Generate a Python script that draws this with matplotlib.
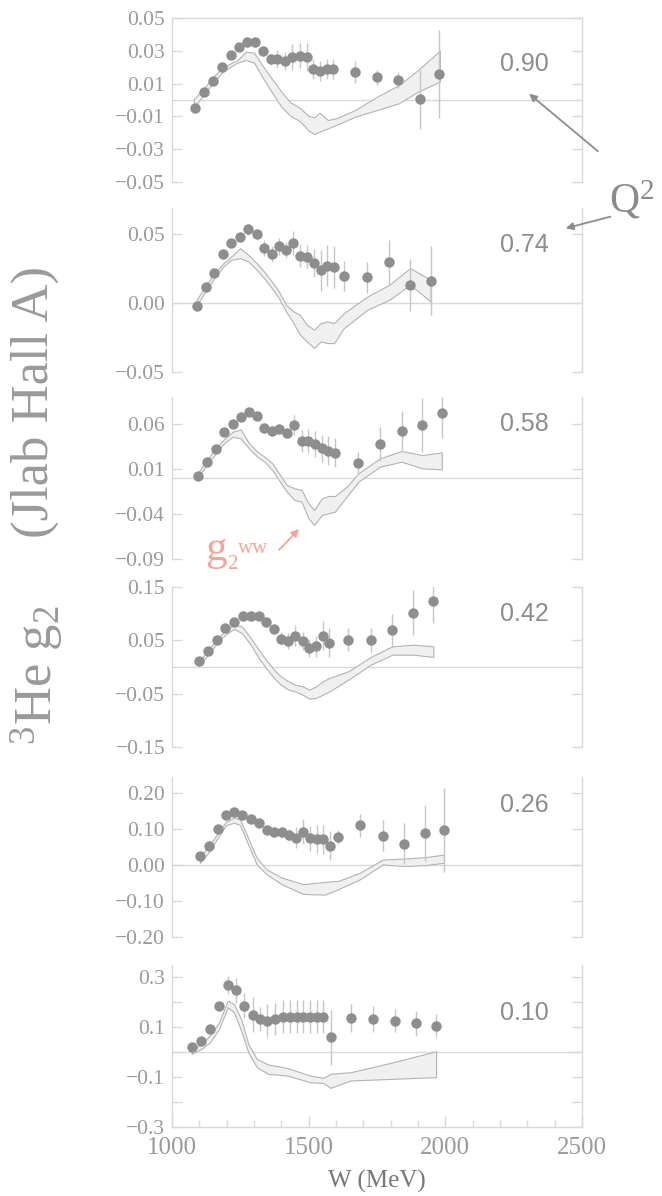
import matplotlib
matplotlib.use("Agg")
import matplotlib.pyplot as plt
from matplotlib.ticker import FixedLocator, FixedFormatter
from matplotlib.patches import FancyArrowPatch

plt.rcParams['mathtext.fontset'] = 'custom'
plt.rcParams['mathtext.rm'] = 'Liberation Serif'
plt.rcParams['mathtext.it'] = 'Liberation Serif:italic'
plt.rcParams['font.family'] = ['Liberation Serif', 'DejaVu Serif']

# ---------------- data ----------------
q2_labels = ["0.90", "0.74", "0.58", "0.42", "0.26", "0.10"]

W1 = [1084, 1117, 1151, 1182, 1215, 1245, 1276, 1304, 1334, 1361, 1385, 1413, 1440, 1468, 1493, 1517, 1541, 1566, 1590, 1670, 1749, 1828, 1907, 1978]
g1 = [-0.0047, 0.0047, 0.0118, 0.0199, 0.0274, 0.0321, 0.0356, 0.0352, 0.0299, 0.0248, 0.0250, 0.0240, 0.0264, 0.0270, 0.0264, 0.0189, 0.0177, 0.0189, 0.0187, 0.0169, 0.0138, 0.0122, 0.0004, 0.0159]
e1 = [0.001, 0.001, 0.001, 0.0015, 0.0015, 0.002, 0.003, 0.003, 0.003, 0.0035, 0.0055, 0.0055, 0.008, 0.0075, 0.0085, 0.006, 0.006, 0.006, 0.006, 0.0066, 0.0045, 0.005, 0.018, 0.027]
bW1 = [1080, 1120, 1150, 1180, 1210, 1240, 1270, 1300, 1330, 1360, 1400, 1430, 1470, 1500, 1520, 1540, 1570, 1600, 1670, 1750, 1830, 1900, 1980]
bhi1 = [0.0006, 0.0077, 0.0142, 0.0187, 0.0220, 0.0244, 0.0295, 0.0289, 0.0213, 0.0142, 0.0051, -0.0010, -0.0051, -0.0098, -0.0106, -0.0077, -0.0122, -0.0112, -0.0061, 0.0020, 0.0091, 0.0183, 0.0301]
blo1 = [-0.0045, 0.0041, 0.0102, 0.0163, 0.0199, 0.0228, 0.0244, 0.0228, 0.0142, 0.0061, -0.0041, -0.0092, -0.0132, -0.0187, -0.0207, -0.0193, -0.0173, -0.0153, -0.0102, -0.0061, -0.0020, 0.0051, 0.0112]

W2 = [1090, 1123, 1155, 1188, 1217, 1249, 1279, 1310, 1337, 1365, 1391, 1417, 1444, 1468, 1493, 1520, 1544, 1568, 1593, 1629, 1715, 1795, 1871, 1946]
g2 = [-0.0019, 0.0116, 0.0217, 0.0357, 0.0435, 0.0483, 0.0536, 0.0500, 0.0399, 0.0357, 0.0411, 0.0386, 0.0435, 0.0345, 0.0338, 0.0290, 0.0237, 0.0271, 0.0261, 0.0198, 0.0186, 0.0295, 0.0133, 0.0162]
e2 = [0.001, 0.002, 0.002, 0.002, 0.002, 0.003, 0.004, 0.004, 0.006, 0.006, 0.006, 0.006, 0.0085, 0.0085, 0.0085, 0.010, 0.015, 0.015, 0.015, 0.011, 0.0115, 0.016, 0.019, 0.025]
bW2 = [1090, 1123, 1155, 1188, 1217, 1249, 1279, 1310, 1337, 1365, 1391, 1417, 1444, 1468, 1493, 1520, 1544, 1568, 1593, 1629, 1715, 1795, 1871, 1946]
bhi2 = [0.0024, 0.0126, 0.0217, 0.0290, 0.0338, 0.0398, 0.0350, 0.0290, 0.0229, 0.0157, 0.0085, -0.0012, -0.0060, -0.0085, -0.0157, -0.0193, -0.0145, -0.0133, -0.0145, -0.0072, 0.0048, 0.0133, 0.0254, 0.0169]
blo2 = [-0.0012, 0.0085, 0.0181, 0.0266, 0.0314, 0.0326, 0.0302, 0.0242, 0.0181, 0.0109, 0.0036, -0.0060, -0.0145, -0.0229, -0.0278, -0.0326, -0.0278, -0.0290, -0.0290, -0.0181, -0.0048, 0.0024, 0.0133, 0.0012]

W3 = [1094, 1127, 1160, 1190, 1222, 1251, 1282, 1312, 1338, 1367, 1391, 1420, 1448, 1474, 1499, 1523, 1548, 1572, 1596, 1682, 1761, 1840, 1916, 1987]
g3 = [0.0026, 0.0174, 0.0322, 0.0514, 0.0596, 0.0681, 0.0736, 0.0688, 0.0559, 0.0525, 0.0544, 0.0503, 0.0592, 0.0411, 0.0411, 0.0377, 0.0329, 0.0303, 0.0281, 0.0170, 0.0374, 0.0522, 0.0588, 0.0725]
e3 = [0.002, 0.002, 0.002, 0.002, 0.003, 0.003, 0.004, 0.004, 0.0055, 0.0055, 0.0055, 0.0055, 0.011, 0.012, 0.013, 0.014, 0.015, 0.016, 0.016, 0.012, 0.019, 0.022, 0.030, 0.028]
bW3 = [1094, 1127, 1160, 1190, 1222, 1251, 1282, 1312, 1338, 1367, 1391, 1420, 1448, 1474, 1499, 1520, 1548, 1572, 1596, 1639, 1682, 1761, 1840, 1916, 1987]
bhi3 = [0.0052, 0.0200, 0.0329, 0.0429, 0.0514, 0.0540, 0.0385, 0.0292, 0.0237, 0.0163, 0.0052, -0.0078, -0.0115, -0.0133, -0.0281, -0.0355, -0.0226, -0.0200, -0.0200, -0.0096, 0.0052, 0.0218, 0.0300, 0.0255, 0.0285]
blo3 = [0.0007, 0.0144, 0.0274, 0.0385, 0.0459, 0.0440, 0.0329, 0.0237, 0.0181, 0.0089, -0.0022, -0.0152, -0.0244, -0.0263, -0.0448, -0.0522, -0.0411, -0.0392, -0.0374, -0.0207, -0.0041, 0.0126, 0.0181, 0.0107, 0.0096]

W4 = [1099, 1132, 1163, 1195, 1227, 1259, 1288, 1317, 1344, 1373, 1398, 1426, 1450, 1478, 1502, 1527, 1551, 1576, 1645, 1727, 1806, 1883, 1956]
g4 = [0.0107, 0.0295, 0.0515, 0.0735, 0.0848, 0.0955, 0.0955, 0.0955, 0.0842, 0.0716, 0.0528, 0.0484, 0.0590, 0.0484, 0.0358, 0.0389, 0.0590, 0.0452, 0.0515, 0.0502, 0.0691, 0.1017, 0.1237]
e4 = [0.002, 0.002, 0.003, 0.003, 0.004, 0.004, 0.005, 0.006, 0.007, 0.008, 0.012, 0.015, 0.019, 0.017, 0.017, 0.020, 0.027, 0.027, 0.022, 0.023, 0.031, 0.042, 0.041]
bW4 = [1099, 1132, 1163, 1195, 1227, 1255, 1288, 1317, 1344, 1373, 1398, 1426, 1450, 1478, 1502, 1527, 1551, 1576, 1645, 1727, 1806, 1883, 1956]
bhi4 = [0.0107, 0.0313, 0.0513, 0.0688, 0.0794, 0.0763, 0.0544, 0.0325, 0.0138, -0.0050, -0.0175, -0.0269, -0.0331, -0.0363, -0.0425, -0.0363, -0.0269, -0.0206, -0.0081, 0.0188, 0.0388, 0.0419, 0.0388]
blo4 = [0.0025, 0.0231, 0.0438, 0.0606, 0.0713, 0.0638, 0.0419, 0.0169, -0.0019, -0.0206, -0.0331, -0.0425, -0.0456, -0.0519, -0.0594, -0.0581, -0.0519, -0.0456, -0.0238, 0.0044, 0.0231, 0.0231, 0.0188]

W5 = [1102, 1137, 1170, 1198, 1227, 1257, 1288, 1318, 1346, 1373, 1401, 1429, 1454, 1480, 1505, 1529, 1554, 1578, 1609, 1688, 1771, 1850, 1926, 1995]
g5 = [0.0265, 0.0539, 0.0995, 0.1406, 0.1479, 0.1406, 0.1278, 0.1160, 0.0977, 0.0913, 0.0913, 0.0840, 0.0767, 0.0931, 0.0749, 0.0730, 0.0721, 0.0539, 0.0776, 0.1114, 0.0813, 0.0593, 0.0886, 0.0977]
e5 = [0.004, 0.004, 0.005, 0.005, 0.006, 0.006, 0.008, 0.010, 0.012, 0.014, 0.015, 0.016, 0.030, 0.035, 0.035, 0.038, 0.040, 0.040, 0.020, 0.032, 0.043, 0.057, 0.078, 0.116]
bW5 = [1102, 1137, 1170, 1198, 1227, 1249, 1279, 1310, 1346, 1401, 1480, 1560, 1609, 1688, 1771, 1850, 1926, 1995]
bhi5 = [0.0247, 0.0539, 0.0931, 0.1205, 0.1324, 0.1269, 0.0749, 0.0201, -0.0119, -0.0347, -0.0530, -0.0466, -0.0438, -0.0210, 0.0155, 0.0183, 0.0219, 0.0292]
blo5 = [0.0064, 0.0383, 0.0794, 0.1114, 0.1178, 0.1114, 0.0566, 0.0018, -0.0256, -0.0530, -0.0803, -0.0822, -0.0667, -0.0393, 0.0018, -0.0027, 0.0000, 0.0064]

W6 = [1072, 1107, 1139, 1172, 1204, 1234, 1265, 1295, 1322, 1349, 1377, 1405, 1432, 1456, 1480, 1505, 1529, 1554, 1580, 1654, 1737, 1816, 1893, 1966]
g6 = [0.0227, 0.0467, 0.0933, 0.1867, 0.2707, 0.2493, 0.1867, 0.1507, 0.1333, 0.1267, 0.1333, 0.1427, 0.1427, 0.1427, 0.1427, 0.1427, 0.1427, 0.1427, 0.0600, 0.1373, 0.1333, 0.1267, 0.1160, 0.1067]
e6 = [0.005, 0.005, 0.008, 0.012, 0.037, 0.050, 0.050, 0.070, 0.050, 0.065, 0.065, 0.065, 0.065, 0.065, 0.065, 0.065, 0.065, 0.065, 0.110, 0.057, 0.053, 0.047, 0.050, 0.047]
bW6 = [1072, 1107, 1139, 1172, 1204, 1227, 1255, 1279, 1310, 1352, 1420, 1505, 1554, 1580, 1654, 1810, 1966]
bhi6 = [0.0067, 0.0333, 0.0667, 0.1200, 0.2067, 0.1933, 0.1267, 0.0333, -0.0267, -0.0493, -0.0627, -0.0933, -0.1027, -0.0867, -0.0800, -0.0400, 0.0040]
blo6 = [-0.0067, 0.0133, 0.0400, 0.0933, 0.1800, 0.1600, 0.0800, 0.0000, -0.0600, -0.0867, -0.0933, -0.1200, -0.1240, -0.1427, -0.1133, -0.1067, -0.1000]

ylims = [(-0.05, 0.05), (-0.05, 0.069), (-0.09, 0.09), (-0.15, 0.15), (-0.2, 0.245), (-0.3, 0.35)]
yticks = [[0.05, 0.03, 0.01, -0.01, -0.03, -0.05],
          [0.05, 0.00, -0.05],
          [0.06, 0.01, -0.04, -0.09],
          [0.15, 0.05, -0.05, -0.15],
          [0.20, 0.10, 0.00, -0.10, -0.20],
          [0.3, 0.1, -0.1, -0.3]]
ytick_labels = [["0.05", "0.03", "0.01", "\u22120.01", "\u22120.03", "\u22120.05"],
                ["0.05", "0.00", "\u22120.05"],
                ["0.06", "0.01", "\u22120.04", "\u22120.09"],
                ["0.15", "0.05", "\u22120.05", "\u22120.15"],
                ["0.20", "0.10", "0.00", "\u22120.10", "\u22120.20"],
                ["0.3", "0.1", "\u22120.1", "\u22120.3"]]
xticks = [1000, 1500, 2000, 2500]
xtick_labels = ["1000", "1500", "2000", "2500"]

panels = [(W1, g1, e1, bW1, blo1, bhi1), (W2, g2, e2, bW2, blo2, bhi2),
          (W3, g3, e3, bW3, blo3, bhi3), (W4, g4, e4, bW4, blo4, bhi4),
          (W5, g5, e5, bW5, blo5, bhi5), (W6, g6, e6, bW6, blo6, bhi6)]

# ---------------- layout ----------------
FW, FH = 662, 1196
fig = plt.figure(figsize=(FW / 100, FH / 100), dpi=100)
left_px, right_px = 172, 582
panel_px = [(18, 182), (208, 372), (397, 559), (587, 747), (777, 937), (965, 1127)]
label_yfrac = [0.72, 0.774, 0.835, 0.83, 0.825, 0.705]

GRID = '#d9d9d9'
TXT = '#9a9a9a'
axes = []
for i, ((top, bot), (W, g, e, bW, blo, bhi)) in enumerate(zip(panel_px, panels)):
    ax = fig.add_axes([left_px / FW, 1 - bot / FH, (right_px - left_px) / FW, (bot - top) / FH])
    ax.patch.set_alpha(0.0)
    axes.append(ax)
    ax.set_xlim(1000, 2500)
    ax.set_ylim(*ylims[i])
    ax.axhline(0, color=GRID, lw=1.0, zorder=0)
    ax.fill_between(bW, blo, bhi, facecolor='#f0f0f0', edgecolor='#b3b3b3', lw=0.8, zorder=1)
    ax.errorbar(W, g, yerr=e, fmt='o', ms=7.5, mfc='#8e8e8e', mec='#8e8e8e', mew=0,
                ecolor='#c6c6c6', elinewidth=1.0, capsize=0, zorder=3)
    for s in ['left', 'right', 'top', 'bottom']:
        ax.spines[s].set_color(GRID)
        ax.spines[s].set_linewidth(1.0)
    ax.spines['top'].set_visible(i == 0)
    ax.spines['bottom'].set_visible(i == 5)
    ax.yaxis.set_major_locator(FixedLocator(yticks[i]))
    ax.yaxis.set_major_formatter(FixedFormatter(ytick_labels[i]))
    if i == 5:
        ax.yaxis.set_minor_locator(FixedLocator([0.2, 0.0, -0.2]))
    ax.tick_params(axis='y', which='both', direction='in', left=True, right=True,
                   length=7, width=1, color=GRID, labelsize=15.5, labelcolor=TXT, pad=5)
    if i == 5:
        ax.xaxis.set_major_locator(FixedLocator(xticks))
        ax.xaxis.set_major_formatter(FixedFormatter(xtick_labels))
        ax.xaxis.set_minor_locator(FixedLocator(list(range(1100, 2500, 100))))
        ax.tick_params(axis='x', which='major', direction='in', length=8, width=1,
                       color=GRID, labelsize=18, labelcolor=TXT, pad=7)
        ax.tick_params(axis='x', which='minor', direction='in', length=5, width=1, color=GRID)
        ax.set_xlabel("W (MeV)", fontsize=18, color='#777777', labelpad=8)
    else:
        ax.tick_params(axis='x', which='both', bottom=False, labelbottom=False)
    ax.text(2288, ylims[i][0] + label_yfrac[i] * (ylims[i][1] - ylims[i][0]), q2_labels[i],
            fontsize=18, color='#8c8c8c', family='Liberation Sans', ha='center', va='center')

# y label (two parts)
fig.text(35 / FW, 1 - 402 / FH, "(Jlab Hall A)", rotation=90, fontsize=38, color=TXT,
         ha='center', va='center')
fig.text(37 / FW, 1 - 675 / FH, r"$^{3}$He g$_{2}$", rotation=90, fontsize=38, color=TXT,
         ha='center', va='center')

# Q^2 annotation
fig.text(632 / FW, 1 - 200 / FH, r"Q$^{2}$", fontsize=30, color='#8a8a8a', ha='center', va='center')
ARC = '#8c8c8c'
for (x0, y0, x1, y1) in [(600, 153, 527, 92), (613, 216, 563, 229)]:
    fig.add_artist(FancyArrowPatch((x0 / FW, 1 - y0 / FH), (x1 / FW, 1 - y1 / FH),
                                   transform=fig.transFigure, arrowstyle='-|>',
                                   color=ARC, lw=1.3, mutation_scale=11, zorder=5))

# g2^ww annotation
SAL = '#f4a596'
fig.text(205 / FW, 1 - 560 / FH, "g", fontsize=31, color=SAL, ha='left', va='baseline')
fig.text(227 / FW, 1 - 569 / FH, "2", fontsize=15, color=SAL, ha='left', va='baseline')
fig.text(238 / FW, 1 - 553 / FH, "ww", fontsize=15, color=SAL, ha='left', va='baseline')
fig.add_artist(FancyArrowPatch((277 / FW, 1 - 552 / FH), (301 / FW, 1 - 527 / FH),
                               transform=fig.transFigure, arrowstyle='-|>',
                               color=SAL, lw=1.3, mutation_scale=11, zorder=5))

fig.savefig("out.png", dpi=100)
